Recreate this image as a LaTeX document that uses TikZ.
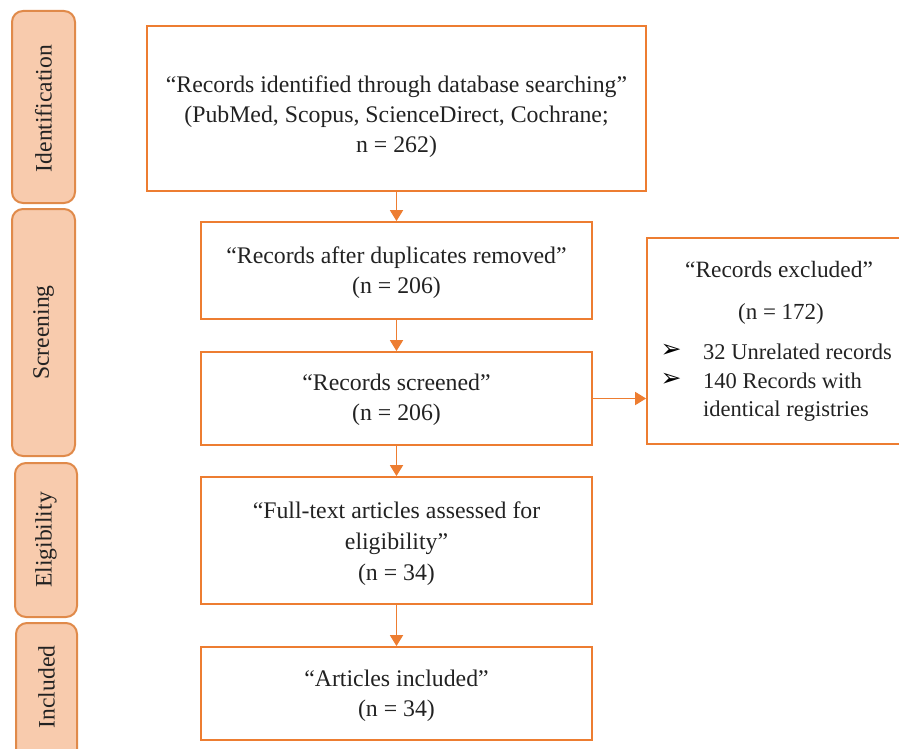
\documentclass[tikz,border=0pt]{standalone}
\usepackage{fontspec}
\setmainfont{Liberation Serif}
\newfontfamily\dejavu{DejaVu Sans}
\usetikzlibrary{arrows.meta}
\definecolor{orng}{HTML}{ED7D31}
\definecolor{phasefill}{HTML}{F8CBAD}
\definecolor{phaseline}{HTML}{E08A4A}
\definecolor{txt}{HTML}{222222}
\tikzset{
  phase/.style={draw=phaseline, fill=phasefill, line width=2pt, rounded corners=11pt, inner sep=0pt},
  phasetext/.style={rotate=90, text=txt, font=\fontsize{23.6}{26}\selectfont, inner sep=0pt},
  flowbox/.style={draw=orng, line width=1.8pt, inner sep=0pt},
  flowtext/.style={align=center, text=txt, font=\fontsize{23.8}{30}\selectfont, inner sep=0pt},
  bullettext/.style={text=txt, font=\fontsize{22.5}{28}\selectfont, inner sep=0pt, anchor=west},
  flowarrow/.style={draw=orng, line width=1.8pt, -{Triangle[width=13pt,length=11pt]}},
  marker/.style={text=black, font=\dejavu\fontsize{25}{28}\selectfont, inner sep=0pt},
}
\begin{document}
\begin{tikzpicture}[x=1pt,y=-1pt]
\useasboundingbox (0,0) rectangle (899,749);
% phase boxes
\node[phase, minimum width=63pt, minimum height=192pt] (pid) at (43.5,107) {};
\node[phasetext] (tid) at (43.5,108.5) {Identification};
\node[phase, minimum width=63pt, minimum height=247pt] (psc) at (43.5,332.5) {};
\node[phasetext] (tsc) at (psc) {Screening};
\node[phase, minimum width=62pt, minimum height=154pt] (pel) at (46,540) {};
\node[phasetext] (tel) at (pel) {Eligibility};
\node[phase, minimum width=61pt, minimum height=140pt] (pin) at (46.5,693) {};
\node[phasetext] (tin) at (46.5,687) {Included};
% flow boxes
\node[flowbox, minimum width=499pt, minimum height=165pt] (b1) at (396.5,108.5) {};
\node[flowtext] (t1) at (396.5,116.5) {“Records identified through database searching”\\(PubMed, Scopus, ScienceDirect, Cochrane;\\n = 262)};
\node[flowbox, minimum width=391pt, minimum height=97pt] (b2) at (396.5,270.5) {};
\node[flowtext] (t2) at (396.5,273) {“Records after duplicates removed”\\(n = 206)};
\node[flowbox, minimum width=391pt, minimum height=93pt] (b3) at (396.5,398.5) {};
\node[flowtext] (t3) at (396.5,400) {“Records screened”\\(n = 206)};
\node[flowbox, minimum width=391pt, minimum height=127pt] (b4) at (396.5,540.5) {};
\node[flowtext, font=\fontsize{23.8}{31}\selectfont] (t4) at (396.5,544) {“Full-text articles assessed for\\eligibility”\\(n = 34)};
\node[flowbox, minimum width=391pt, minimum height=93pt] (b5) at (396.5,693.5) {};
\node[flowtext] (t5) at (396.5,696) {“Articles included”\\(n = 34)};
% excluded box
\node[flowbox, minimum width=260pt, minimum height=206pt] (bx) at (777,341) {};
\node[flowtext, font=\fontsize{23.4}{28}\selectfont] (tx1) at (779,269) {“Records excluded”};
\node[flowtext, font=\fontsize{23}{28}\selectfont] (tx2) at (781,314) {(n = 172)};
\node[marker] (m1) at (671,351) {➢};
\node[marker] (m2) at (671,380) {➢};
\node[bullettext] (tx3) at (703,352) {32 Unrelated records};
\node[bullettext] (tx4) at (703,381) {140 Records with};
\node[bullettext] (tx5) at (703,411) {identical registries};
% arrows
\draw[flowarrow] (b1.south) -- (b2.north);
\draw[flowarrow] (b2.south) -- (b3.north);
\draw[flowarrow] (b3.south) -- (b4.north);
\draw[flowarrow] (b4.south) -- (b5.north);
\draw[flowarrow] (b3.east) -- (bx.west |- b3.east);
\end{tikzpicture}
\end{document}
